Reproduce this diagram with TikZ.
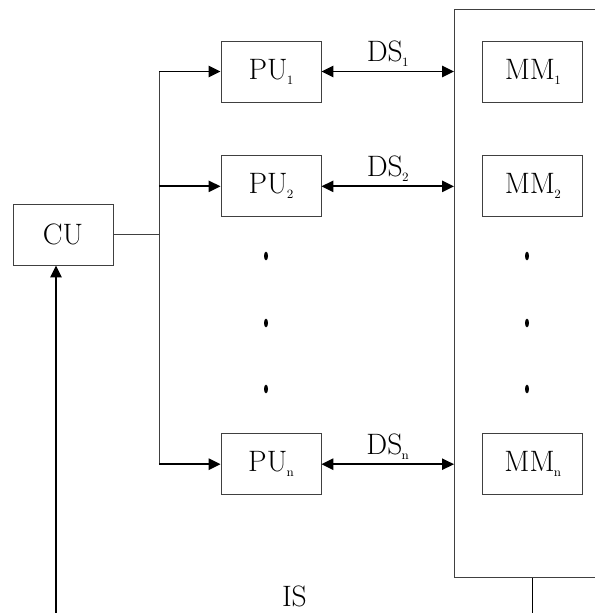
\documentclass[tikz,border=0pt]{standalone}
\usepackage{tikz}
\usetikzlibrary{arrows.meta,positioning,calc}

\newcommand{\subidx}[1]{\kern-0.5pt\raisebox{-3.5pt}{\fontsize{9}{10}\selectfont #1}}

\begin{document}
\begin{tikzpicture}[
  unit/.style={rectangle, draw=black!75, line width=0.6pt, minimum width=2.5cm,
    minimum height=1.525cm, inner sep=0pt, font=\fontsize{21}{25}\selectfont},
  wire/.style={draw=black!75, line width=0.6pt},
  link/.style={line width=1.3pt},
  lbl/.style={font=\fontsize{21}{25}\selectfont},
  >={Triangle[length=8.5pt,width=8pt]}
]
  \useasboundingbox (0,0) rectangle (14.875,-15.325);
  \clip (0,0) rectangle (14.875,-15.325);

  \node[unit] (cu) at (1.575,-5.8625) {CU};
  \node[unit] (pu1) at (6.775,-1.7875) {PU\subidx{1}};
  \node[unit, below=1.325cm of pu1] (pu2) {PU\subidx{2}};
  \node[unit, below=5.4cm of pu2] (pun) {PU\subidx{n}};

  % memory box, runs off the right and bottom
  \node[wire, minimum width=5cm, minimum height=14.2cm, anchor=north west] (mem) at (11.35,-0.225) {};
  \node[unit, right=4.025cm of pu1] (mm1) {MM\subidx{1}};
  \node[unit, right=4.025cm of pu2] (mm2) {MM\subidx{2}};
  \node[unit, right=4.025cm of pun] (mmn) {MM\subidx{n}};

  \coordinate (bus) at ($(cu.east)+(1.15,0)$);
  \draw[wire] (cu.east) -- (bus);
  \draw[wire] (bus |- pu1.west) -- (bus |- pun.west);
  \foreach \k in {1,2,n}
    \draw[link,->] (bus |- pu\k.west) -- (pu\k.west);
  \foreach \k in {1,2,n}
    \draw[link,<->] (pu\k.east) -- node[lbl, above, inner sep=3pt] {DS\subidx{\k}} (pu\k.east -| mem.west);

  \foreach \y in {-6.4,-8.075,-9.725} {
    \fill (6.65,\y) ellipse (0.05 and 0.11);
    \fill (13.175,\y) ellipse (0.05 and 0.11);
  }

  % instruction stream back to CU
  \coordinate (busbot) at (0,-15.6);
  \coordinate (memout) at (mem.south -| mm1);
  \coordinate (cuin) at ($(cu.south)+(-0.175,0)$);
  \draw[line width=0.6pt] (memout) -- (memout |- busbot)
    -- node[lbl, above=0.3cm] {IS} (cuin |- busbot);
  \draw[link,->] (cuin |- busbot) -- (cuin);
\end{tikzpicture}
\end{document}
